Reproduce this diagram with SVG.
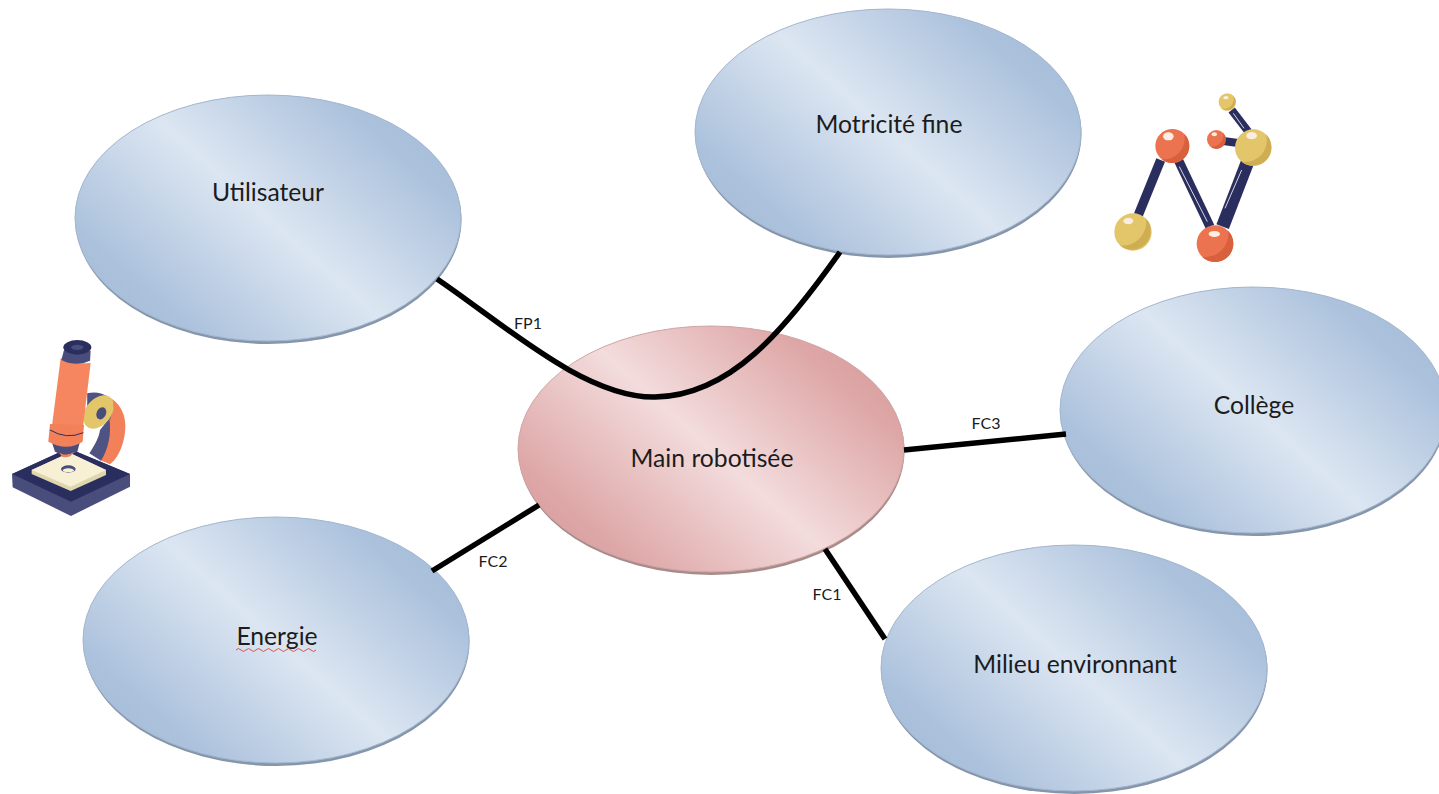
<svg xmlns="http://www.w3.org/2000/svg" width="1439" height="794" viewBox="0 0 1439 794">
<style>
text{font-family:Lato,"Liberation Sans",sans-serif;fill:#1c1c1c;text-anchor:middle}
.n{font-size:24.7px}.l{font-size:16px}
.c{fill:none;stroke:#000;stroke-width:5.500}
.blue{fill:url(#b);stroke:#a3b6ce;stroke-width:1}
.pink{fill:url(#p);stroke:#cfa5a5;stroke-width:1}
.bb{fill:#8595aa}.pb{fill:#a98a8a}
.bond{stroke:#2b2f5e;stroke-width:28;fill:none}
.hl{stroke:#d8d8e4;stroke-width:3;fill:none}
.o{fill:#ec7350}.y{fill:#e3c56b}
.os{fill:#d9603e}.ys{fill:#cfae52}
.h{fill:#fbeee0}
</style>
<defs>
<linearGradient id="b" x1="0.08" y1="0.8" x2="0.92" y2="0.2">
<stop offset="0" stop-color="#a8bfdb"/><stop offset="0.08" stop-color="#abc1dc"/><stop offset="0.5" stop-color="#dce6f2"/><stop offset="0.92" stop-color="#abc1dc"/><stop offset="1" stop-color="#a8bfdb"/>
</linearGradient>
<linearGradient id="p" x1="0.08" y1="0.8" x2="0.92" y2="0.2">
<stop offset="0" stop-color="#dba1a1"/><stop offset="0.08" stop-color="#dea7a7"/><stop offset="0.5" stop-color="#f3dcdd"/><stop offset="0.92" stop-color="#dea6a6"/><stop offset="1" stop-color="#dba1a1"/>
</linearGradient>
<filter id="soft" x="-5%" y="-5%" width="110%" height="110%"><feGaussianBlur stdDeviation="0.5"/></filter>
</defs>

<g id="node-utilisateur"><ellipse class="bb" cx="268.500" cy="220" rx="193" ry="124"/><ellipse class="blue" cx="268" cy="218" rx="193" ry="123"/><text class="n" x="268" y="201">Utilisateur</text></g>
<g id="node-motricite"><ellipse class="bb" cx="888.500" cy="134" rx="193" ry="124"/><ellipse class="blue" cx="888" cy="132" rx="193" ry="123"/><text class="n" x="889" y="133">Motricité fine</text></g>
<g id="node-college"><ellipse class="bb" cx="1253.500" cy="412" rx="193" ry="124"/><ellipse class="blue" cx="1253" cy="410" rx="193" ry="123"/><text class="n" x="1254" y="414">Collège</text></g>
<g id="node-milieu"><ellipse class="bb" cx="1074.500" cy="670" rx="193" ry="124"/><ellipse class="blue" cx="1074" cy="668" rx="193" ry="123"/><text class="n" x="1075" y="673">Milieu environnant</text></g>
<g id="node-energie"><ellipse class="bb" cx="276.500" cy="642" rx="193" ry="124"/><ellipse class="blue" cx="276" cy="640" rx="193" ry="123"/><text class="n" x="277" y="645">Energie</text><path d="M236 650q2.500 -3 5 0t5 0t5 0t5 0t5 0t5 0t5 0t5 0t5 0t5 0t5 0t5 0t5 0t5 0t5 0t5 0" fill="none" stroke="#d9534f" stroke-width="1"/></g>
<g id="node-main"><ellipse class="pb" cx="711.500" cy="451" rx="193" ry="124"/><ellipse class="pink" cx="711" cy="449" rx="193" ry="123"/><text class="n" x="712" y="467">Main robotisée</text></g>

<g id="connectors">
<path class="c" d="M437 279C505 325 585 398 655 397C730 396 785 330 840 252"/>
<path class="c" d="M904 450L1066 434"/>
<path class="c" d="M825 549L885 639"/>
<path class="c" d="M539 505L432 571"/>
</g>
<g id="labels">
<text class="l" x="528" y="329">FP1</text>
<text class="l" x="986" y="429">FC3</text>
<text class="l" x="827" y="600">FC1</text>
<text class="l" x="493" y="567">FC2</text>
</g>

<g id="microscope" transform="translate(0 330) scale(.3333)" filter="url(#soft)">
<path d="M36 432L205 355L390 432V470L213 558L38 472Z" fill="#4a4e7c"/>
<path d="M36 432L205 355L390 432L213 515Z" fill="#2b2f5e"/>
<path d="M95 420L208 368L318 420V435L212 483L95 432Z" fill="#e0d6ad"/>
<path d="M95 420L208 368L318 420L212 470Z" fill="#f7f0d4"/>
<ellipse cx="205" cy="417" rx="22" ry="11" fill="#4a4e7c"/>
<ellipse cx="205" cy="421" rx="17" ry="6" fill="#f7f0d4"/>
<path d="M262 190C330 185 375 225 376 285C377 335 355 385 330 403L300 390C320 350 335 310 325 265C315 235 290 225 262 230Z" fill="#f28058"/>
<path d="M262 190C300 180 335 200 342 225L330 270C325 235 290 225 262 230ZM300 300L328 265C335 310 325 360 303 392L268 370C285 345 298 320 300 300Z" fill="#4f5383"/>
<path d="M250 268C245 240 275 200 310 196C335 195 345 215 340 240C333 270 305 295 280 296C262 296 252 285 250 268Z" fill="#e3c56b"/>
<ellipse cx="304" cy="250" rx="14" ry="19" fill="#4a4e7c" transform="rotate(25 304 250)"/>
<path d="M155 335H240L232 365Q200 385 165 365Z" fill="#4a4e7c"/>
<path d="M178 368Q200 382 222 365L212 378Q198 385 186 380Z" fill="#f28058"/>
<path d="M182 85Q230 105 272 98L248 300L155 295Z" fill="#f5865f"/>
<path d="M150 282L252 285L248 335Q200 365 145 335Z" fill="#f28058"/>
<path d="M150 300Q200 330 250 308" fill="none" stroke="#2b2f5e" stroke-width="3"/>
<path d="M192 60L272 62L270 92Q230 112 184 90Z" fill="#4a4e7c"/>
<ellipse cx="232" cy="52" rx="42" ry="22" fill="#2b2f5e"/>
<ellipse cx="232" cy="52" rx="18" ry="8" fill="#4a4e7c"/>
</g>

<g id="molecule" transform="translate(1100 85) scale(.3333)" filter="url(#soft)">
<path class="bond" d="M182 225L115 390"/>
<path class="bond" d="M235 225L330 425"/>
<path class="bond" style="stroke-width:40" d="M445 225L368 425"/>
<path class="bond" style="stroke-width:24" d="M395 75L445 140"/>
<path class="bond" style="stroke-width:24" d="M370 168L420 175"/>
<path class="hl" d="M238 245L322 410M425 255L375 370M400 85L432 130"/>
<circle class="y" cx="382" cy="51" r="26"/><path class="ys" d="M400 33A26 26 0 0 1 365 71A30 30 0 0 0 400 33Z"/><ellipse class="h" cx="378" cy="38" rx="8" ry="5"/>
<circle class="o" cx="349" cy="163" r="28"/><path class="os" d="M369 143A28 28 0 0 1 330 184A34 34 0 0 0 369 143Z"/><ellipse class="h" cx="343" cy="148" rx="8" ry="6"/>
<circle class="y" cx="460" cy="188" r="55"/><path class="ys" d="M498 148A55 55 0 0 1 425 230A65 65 0 0 0 498 148Z"/><ellipse class="h" cx="455" cy="152" rx="16" ry="11"/>
<circle class="o" cx="217" cy="183" r="51"/><path class="os" d="M253 147A51 51 0 0 1 184 222A62 62 0 0 0 253 147Z"/><ellipse class="h" cx="205" cy="154" rx="16" ry="12"/>
<circle class="y" cx="99" cy="441" r="56"/><path class="ys" d="M138 401A56 56 0 0 1 60 481A70 70 0 0 0 138 401Z"/><ellipse class="h" cx="85" cy="408" rx="15" ry="10"/>
<circle class="o" cx="345" cy="476" r="55"/><path class="os" d="M384 437A55 55 0 0 1 306 515A68 68 0 0 0 384 437Z"/><ellipse class="h" cx="343" cy="447" rx="17" ry="9"/>
</g>
</svg>
